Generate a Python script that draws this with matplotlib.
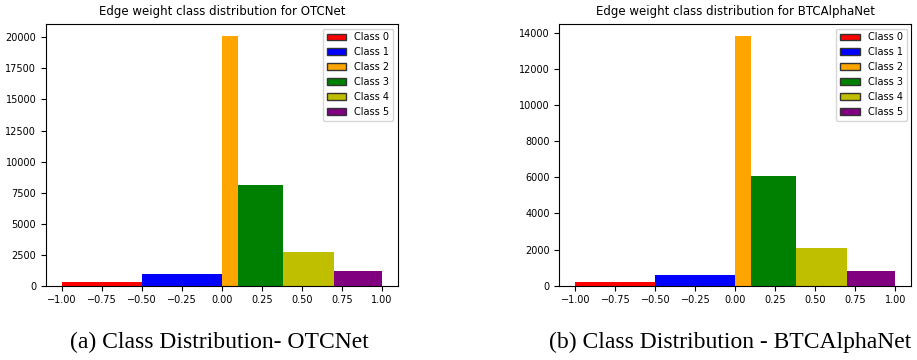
import matplotlib.pyplot as plt
from matplotlib.patches import Patch

# bin edges of the six weight classes
edges = [-1.0, -0.5, 0.0, 0.1, 0.38, 0.7, 1.0]
class_names = ["Class 0", "Class 1", "Class 2", "Class 3", "Class 4", "Class 5"]
class_colors = ["red", "blue", "orange", "green", "y", "purple"]

otc_counts = [270, 930, 20100, 8130, 2700, 1150]
btc_counts = [185, 570, 13800, 6050, 2060, 805]

titles = ["Edge weight class distribution for OTCNet",
          "Edge weight class distribution for BTCAlphaNet"]
captions = ["(a) Class Distribution- OTCNet",
            "(b) Class Distribution - BTCAlphaNet"]

fig = plt.figure(figsize=(9.17, 3.6), dpi=100)
ax1 = fig.add_axes([0.0502, 0.2064, 0.3839, 0.7278])
ax2 = fig.add_axes([0.6100, 0.2064, 0.3839, 0.7278])

lefts = edges[:-1]
widths = [b - a for a, b in zip(edges[:-1], edges[1:])]

for ax, counts, title in zip([ax1, ax2], [otc_counts, btc_counts], titles):
    ax.bar(lefts, counts, width=widths, align="edge", color=class_colors,
           edgecolor="none")
    ax.set_xticks([-1.0, -0.75, -0.5, -0.25, 0.0, 0.25, 0.5, 0.75, 1.0])
    ax.tick_params(labelsize=7)
    ax.set_title(title, fontsize=8.5)
    handles = [Patch(facecolor=c, edgecolor="#333333", label=n)
               for c, n in zip(class_colors, class_names)]
    ax.legend(handles=handles, loc="upper right", fontsize=7)

fig.text(0.239, 0.05, captions[0], ha="center", va="center",
         family="Liberation Serif", fontsize=17)
fig.text(0.796, 0.05, captions[1], ha="center", va="center",
         family="Liberation Serif", fontsize=17)

fig.savefig("out.png", dpi=100)
